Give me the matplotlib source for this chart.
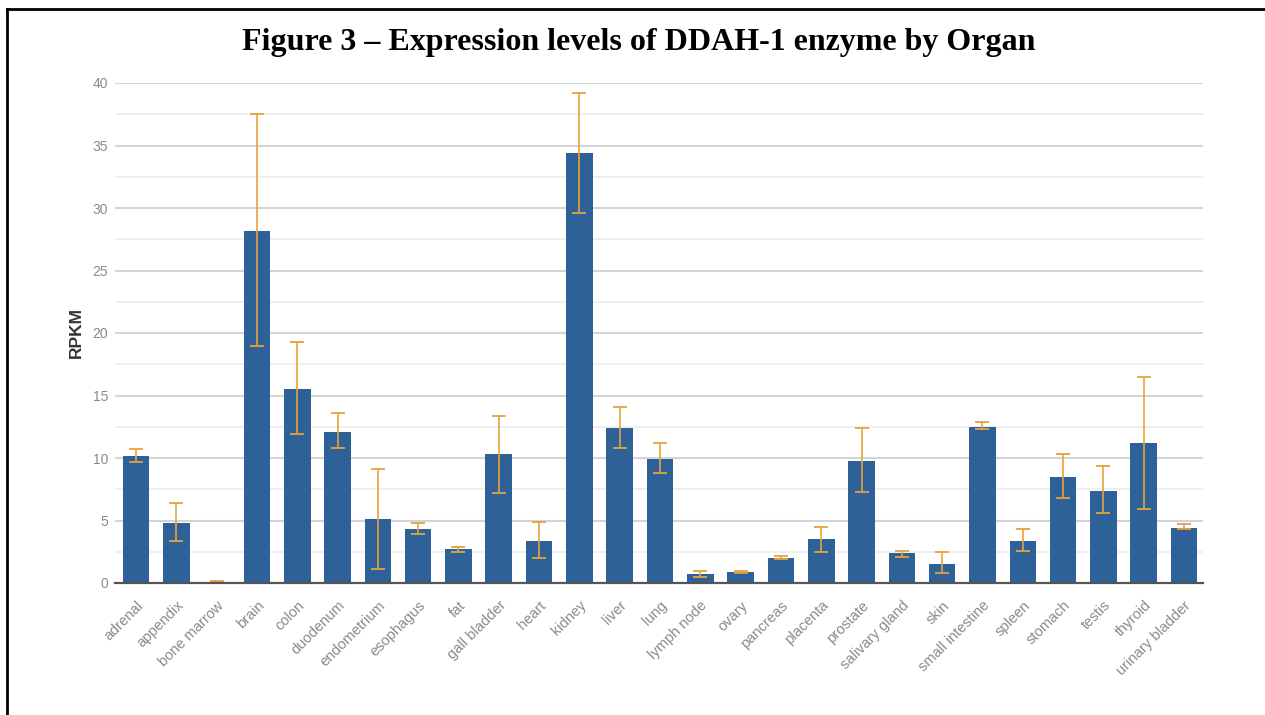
import matplotlib
matplotlib.use("Agg")
import matplotlib.pyplot as plt
import numpy as np
from matplotlib.lines import Line2D

organs = ['adrenal', 'appendix', 'bone marrow', 'brain', 'colon', 'duodenum',
          'endometrium', 'esophagus', 'fat', 'gall bladder', 'heart', 'kidney',
          'liver', 'lung', 'lymph node', 'ovary', 'pancreas', 'placenta',
          'prostate', 'salivary gland', 'skin', 'small intestine', 'spleen',
          'stomach', 'testis', 'thyroid', 'urinary bladder']
rpkm = [10.2, 4.8, 0.1, 28.2, 15.5, 12.1, 5.1, 4.3, 2.7, 10.3, 3.4, 34.4,
        12.4, 9.9, 0.7, 0.9, 2.0, 3.5, 9.8, 2.4, 1.5, 12.5, 3.4, 8.5, 7.4,
        11.2, 4.4]
err_low = [9.7, 3.4, 0.05, 19.0, 11.9, 10.8, 1.1, 3.9, 2.5, 7.2, 2.0, 29.6,
           10.8, 8.8, 0.5, 0.8, 1.9, 2.5, 7.3, 2.1, 0.8, 12.3, 2.6, 6.8, 5.6,
           5.9, 4.3]
err_high = [10.7, 6.4, 0.15, 37.5, 19.3, 13.6, 9.1, 4.8, 2.9, 13.4, 4.9, 39.2,
            14.1, 11.2, 1.0, 1.0, 2.2, 4.5, 12.4, 2.6, 2.5, 12.9, 4.3, 10.3,
            9.4, 16.5, 4.7]

x = np.arange(len(organs))
vals = np.array(rpkm)
yerr = [vals - np.array(err_low), np.array(err_high) - vals]

fig = plt.figure(figsize=(12.65, 7.15), dpi=100)
ax = fig.add_axes([115 / 1265, 1 - 583 / 715, 1088 / 1265, 500 / 715])

ax.bar(x, vals, width=0.66, color='#2D6197', zorder=3)
ax.errorbar(x, vals, yerr=yerr, fmt='none', ecolor='#E5A33D', elinewidth=1.2,
            capsize=5, capthick=1.3, zorder=4)

ax.set_xlim(-0.52, 26.47)
ax.set_ylim(0, 40)
ax.set_yticks(np.arange(0, 41, 5))
ax.set_yticks(np.arange(2.5, 40, 5), minor=True)
ax.grid(axis='y', which='major', color='#d4d4d4', linewidth=1.5, zorder=0)
ax.grid(axis='y', which='minor', color='#eeeeee', linewidth=1.3, zorder=0)
for s in ['top', 'right', 'left']:
    ax.spines[s].set_visible(False)
ax.spines['bottom'].set_color('#555555')
ax.spines['bottom'].set_linewidth(1.6)
ax.spines['bottom'].set_zorder(5)

ax.set_xticks(x)
ax.set_xticklabels(organs, rotation=45, ha='right', rotation_mode='anchor',
                   fontsize=10.5, color='#8a8a8a', family='Liberation Sans')
ax.tick_params(axis='x', length=0, pad=11)
ax.tick_params(axis='y', which='both', length=0, pad=5, labelsize=10,
               labelcolor='#8a8a8a')
for t in ax.get_yticklabels():
    t.set_family('Liberation Sans')

ax.set_ylabel('RPKM', fontsize=12.5, fontweight='bold', color='#333333',
              family='Liberation Sans', labelpad=6)

fig.text(639 / 1265, 1 - 50 / 715,
         'Figure 3 \u2013 Expression levels of DDAH-1 enzyme by Organ',
         ha='center', va='baseline', fontsize=23, fontweight='bold',
         family='Liberation Serif')

# page border (top and left edges)
fig.add_artist(Line2D([7 / 1265, 1], [1 - 9 / 715, 1 - 9 / 715],
                      transform=fig.transFigure, color='black', linewidth=2))
fig.add_artist(Line2D([7 / 1265, 7 / 1265], [0, 1 - 9 / 715],
                      transform=fig.transFigure, color='black', linewidth=2))

fig.savefig('out.png', dpi=100)
